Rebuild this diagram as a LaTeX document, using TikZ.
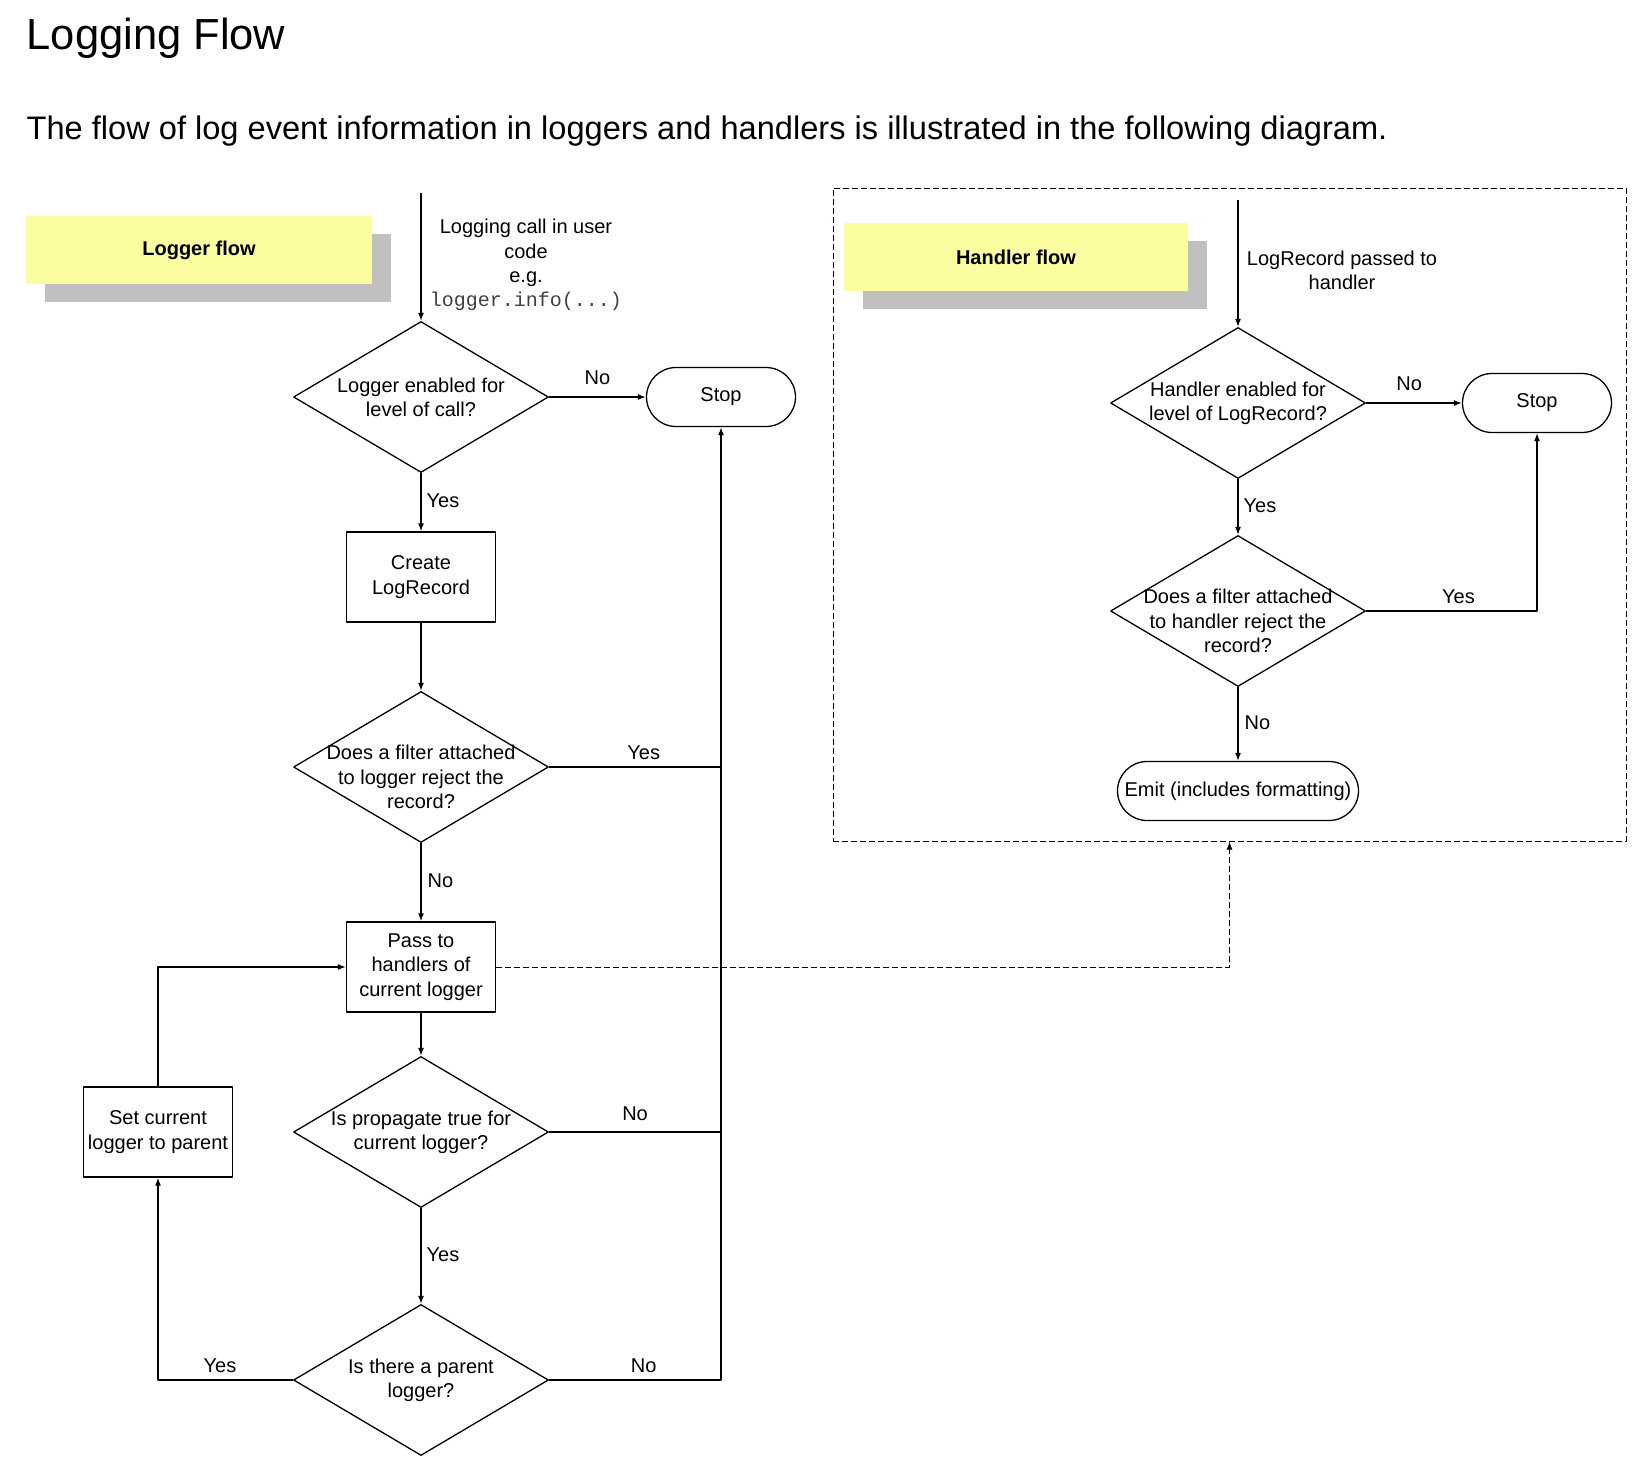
\documentclass[tikz,border=0pt]{standalone}
\usepackage{fontspec}
\setmainfont{Liberation Sans}
\setmonofont{Liberation Mono}
\usetikzlibrary{shapes.geometric,shapes.misc,shadows,arrows.meta,positioning}
\definecolor{noteyellow}{RGB}{252,252,160}
\definecolor{notegray}{RGB}{192,192,192}
\newcommand\flowfont{\fontsize{20}{24.3}\selectfont}

\begin{document}
\begin{tikzpicture}[x=1pt, y=-1pt, font=\flowfont, line join=round, line width=1.3pt,
	>={Latex[length=8pt,width=6pt]},
	decision/.style={diamond, draw, minimum width=255pt, minimum height=151pt, inner sep=0pt},
	process/.style={draw, minimum width=149pt, minimum height=90pt, inner sep=0pt, align=center},
	terminal/.style={rounded rectangle, draw, minimum height=59pt, inner sep=0pt},
	banner/.style={fill=noteyellow, minimum height=68pt, font=\flowfont\bfseries,
		drop shadow={shadow xshift=19pt, shadow yshift=-18pt, fill=notegray, opacity=1}},
	lbl/.style={inner sep=0pt, text height=14pt, text depth=4pt},
	dtext/.style={align=center}]
	\useasboundingbox (0,0) rectangle (1652,1464);
	
	\node[anchor=base west, inner sep=0pt, font=\fontsize{43.5}{50}\selectfont] (title) at (26,49) {Logging Flow};
	\node[anchor=base west, inner sep=0pt, font=\fontsize{32.6}{36}\selectfont] (intro) at (26,139)
		{The flow of log event information in loggers and handlers is illustrated in the following diagram.};
	
	% logger flow
	\node[banner, minimum width=346pt] (loggerbanner) at (199,250) {Logger flow};
	\path (421,193) coordinate (callin);
	\node[align=center] (calltxt) at (526,265) {Logging call in user\\code\\e.g.\\\textcolor{darkgray}{\ttfamily logger.info(...)}};
	\node[decision, label={[dtext]center:Logger enabled for\\level of call?}] (dec1) at (421,397) {};
	\node[terminal, minimum width=149pt] (stop1) at (721,397) {Stop};
	\node[process] (create) at (421,577) {Create\\LogRecord};
	\node[decision, label={[dtext, yshift=-10pt]center:Does a filter attached\\to logger reject the\\record?}] (dec2) at (421,767) {};
	\node[process] (pass) at (421,967) {Pass to\\handlers of\\current logger};
	\node[decision, label={[dtext]center:Is propagate true for\\current logger?}] (dec3) at (421,1132) {};
	\node[decision, label={[dtext]center:Is there a parent\\logger?}] (dec4) at (421,1380) {};
	\node[process] (setpar) at (158,1132) {Set current\\logger to parent};
	
	\draw[->] (callin) -- (dec1.north);
	\draw[->] (dec1.east) -- node[lbl, above=8pt]{No} (stop1.west);
	\draw[->] (dec1.south) -- node[lbl, right=5pt]{Yes} (create.north);
	\draw[->] (create.south) -- (dec2.north);
	\draw (dec2.east) -- node[lbl, above=3pt, pos=0.55]{Yes} (dec2.east -| stop1.south);
	\draw[->] (dec2.south) -- node[lbl, right=6pt]{No} (pass.north);
	\draw[->] (pass.south) -- (dec3.north);
	\draw (dec3.east) -- node[lbl, above=7pt]{No} (dec3.east -| stop1.south);
	\draw[->] (dec3.south) -- node[lbl, right=5pt]{Yes} (dec4.north);
	\draw[->] (dec4.east) -- node[lbl, above=3pt, pos=0.55]{No} (dec4.east -| stop1.south) -- (stop1.south);
	\draw[->] (dec4.west) -| node[lbl, above=3pt, pos=0.27]{Yes} (setpar.south);
	\draw[->] (setpar.north) |- (pass.west);
	
	% handler flow
	\node[draw, line width=1pt, dash pattern=on 6pt off 3pt, minimum width=793pt, minimum height=653pt] (hbox) at (1229.5,514.5) {};
	\node[banner, minimum width=344pt] (handlerbanner) at (1016,257) {Handler flow};
	\path (1238,200) coordinate (recin);
	\node[align=center] (rectxt) at (1342,270) {LogRecord passed to\\handler};
	\node[decision, label={[dtext]center:Handler enabled for\\level of LogRecord?}] (hdec1) at (1238,403) {};
	\node[terminal, minimum width=149pt] (hstop) at (1537,403) {Stop};
	\node[decision, label={[dtext, yshift=-10pt]center:Does a filter attached\\to handler reject the\\record?}] (hdec2) at (1238,611) {};
	\node[terminal, minimum width=241pt] (emit) at (1238,791) {Emit (includes formatting)};
	
	\draw[->] (recin) -- (hdec1.north);
	\draw[->] (hdec1.east) -- node[lbl, above=8pt, pos=0.45]{No} (hstop.west);
	\draw[->] (hdec1.south) -- node[lbl, right=5pt]{Yes} (hdec2.north);
	\draw[->] (hdec2.east) -| node[lbl, above=3pt, pos=0.27]{Yes} (hstop.south);
	\draw[->] (hdec2.south) -- node[lbl, right=6pt]{No} (emit.north);
	
	\draw[->, line width=1pt, dash pattern=on 6pt off 3pt] (pass.east) -| (hbox.south);
\end{tikzpicture}
\end{document}
